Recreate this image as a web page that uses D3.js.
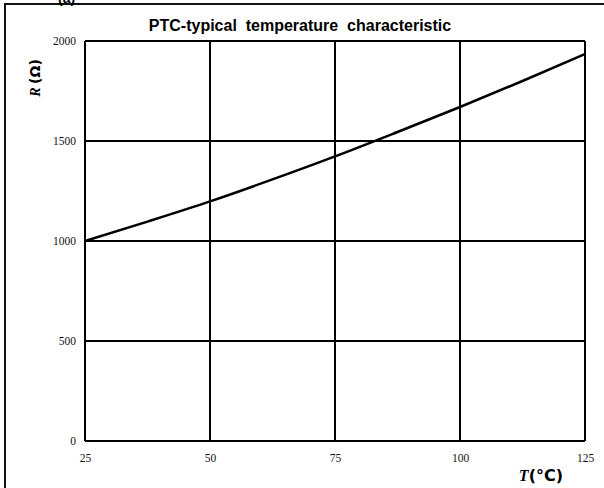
<!DOCTYPE html>
<html><head><meta charset="utf-8">
<script src="https://cdn.jsdelivr.net/npm/d3@7"></script>
<style>body{margin:0;background:#fff;}svg{display:block;}</style>
</head><body>
<script>
const temps = [25, 37.5, 50, 62.5, 75, 87.5, 100, 112.5, 125];
const resist = [1000, 1097, 1198, 1308, 1423, 1545, 1670, 1800, 1935];
const xTicks = [25, 50, 75, 100, 125];
const yTicks = [0, 500, 1000, 1500, 2000];
const title = "PTC-typical  temperature  characteristic";

const W = 604, H = 488;
const svg = d3.select("body").append("svg").attr("width", W).attr("height", H);

// outer frame
svg.append("path").attr("d", `M5,${H+5} L5,4 L${W+5},4`).attr("fill","none").attr("stroke","#111").attr("stroke-width",2);
svg.append("text").attr("x",58).attr("y",3).attr("font-family","Liberation Sans, Arial, sans-serif").attr("font-weight","bold").attr("font-size",14).text("(a)");

const x = d3.scaleLinear().domain([25,125]).range([85,585]);
const y = d3.scaleLinear().domain([0,2000]).range([441,41]);

const g = svg.append("g");
// grid
g.selectAll("line.v").data(xTicks).join("line").attr("x1",d=>x(d)).attr("x2",d=>x(d)).attr("y1",y(0)).attr("y2",y(2000)).attr("stroke","#000").attr("stroke-width",2);
g.selectAll("line.h").data(yTicks).join("line").attr("y1",d=>y(d)).attr("y2",d=>y(d)).attr("x1",x(25)).attr("x2",x(125)).attr("stroke","#000").attr("stroke-width",2);

// tick labels via axes
const fmt = d3.format("d");
const xa = svg.append("g").attr("transform",`translate(0,${y(0)})`).call(d3.axisBottom(x).tickValues(xTicks).tickFormat(fmt).tickSize(0).tickPadding(13));
const ya = svg.append("g").attr("transform",`translate(${x(25)-9},0)`).call(d3.axisLeft(y).tickValues(yTicks).tickFormat(fmt).tickSize(0).tickPadding(0));
[xa,ya].forEach(a=>{a.select(".domain").remove();a.selectAll("text").attr("font-family","Liberation Serif, Times New Roman, serif").attr("font-size",11.5).attr("fill","#111");});

// curve
const line = d3.line().x((d,i)=>x(temps[i])).y(d=>y(d)).curve(d3.curveMonotoneX);
svg.append("path").datum(resist).attr("d",line).attr("fill","none").attr("stroke","#000").attr("stroke-width",2.5);

// title
svg.append("text").attr("x",300).attr("y",31).attr("text-anchor","middle").attr("font-family","Liberation Sans, Arial, sans-serif").attr("font-weight","bold").attr("font-size",16).style("white-space","pre").text(title);

// y label
const yl = svg.append("text").attr("transform","translate(40,78) rotate(-90)").attr("text-anchor","middle").attr("font-weight","bold").attr("font-size",14);
yl.append("tspan").attr("font-family","Liberation Serif, serif").attr("font-style","italic").text("R ");
yl.append("tspan").attr("font-family","DejaVu Sans, sans-serif").text("(Ω)");

// x label
const xl = svg.append("text").attr("x",563).attr("y",481).attr("text-anchor","end").attr("font-weight","bold").attr("font-size",16);
xl.append("tspan").attr("font-family","Liberation Serif, serif").attr("font-style","italic").text("T");
xl.append("tspan").attr("font-family","DejaVu Sans, sans-serif").text("(°C)");
</script>
</body></html>
